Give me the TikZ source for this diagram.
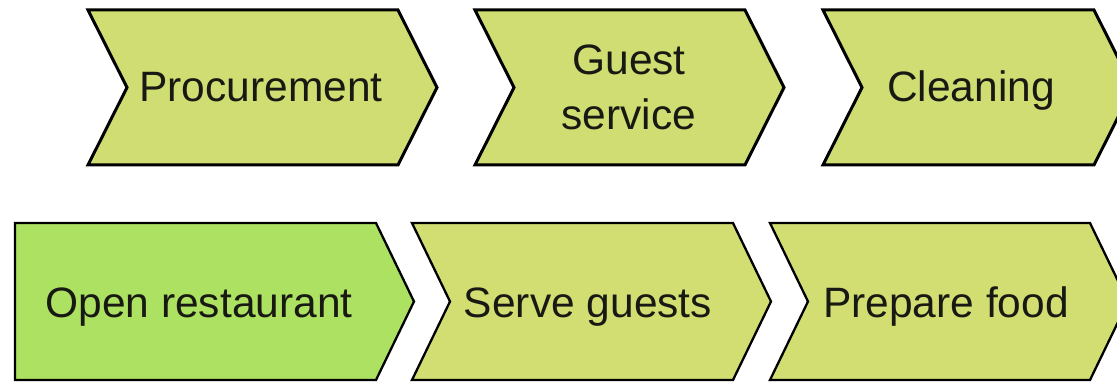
\documentclass[tikz,border=0pt]{standalone}
\usepackage{fontspec}
\setmainfont{Liberation Sans}
\definecolor{topfill}{RGB}{208,221,114}
\definecolor{botfill}{RGB}{210,222,114}
\definecolor{openfill}{RGB}{173,225,98}
\definecolor{txt}{RGB}{25,25,20}
\begin{document}
\begin{tikzpicture}[x=1pt,y=-1pt,
  topshape/.style={draw=black,line width=3pt,line join=miter,fill=topfill},
  botshape/.style={draw=black,line width=2.3pt,line join=miter,fill=botfill},
  label/.style={text=txt,font=\fontsize{42.5}{55}\selectfont,align=center,inner sep=0pt,anchor=base}]
\useasboundingbox (0,0) rectangle (1117,382);
\begin{scope}
\clip (0,0) rectangle (1117,382);
% top row
\draw[topshape] (88,10) -- (398,10) -- (437,87.5) -- (398,165) -- (88,165) -- (127,87.5) -- cycle;
\draw[topshape] (475,10) -- (745,10) -- (784,87.5) -- (745,165) -- (475,165) -- (514,87.5) -- cycle;
\draw[topshape] (823,10) -- (1094,10) -- (1133,87.5) -- (1094,165) -- (823,165) -- (862,87.5) -- cycle;
% bottom row
\draw[botshape,fill=openfill] (15,223) -- (376,223) -- (414,301.5) -- (376,380) -- (15,380) -- cycle;
\draw[botshape] (412,223) -- (733,223) -- (771,301.5) -- (733,380) -- (412,380) -- (450,301.5) -- cycle;
\draw[botshape] (770,223) -- (1090,223) -- (1128,301.5) -- (1090,380) -- (770,380) -- (808,301.5) -- cycle;
\end{scope}
\node[label] (proc) at (261,102) {Procurement};
\node[label] (guest) at (629,130) {Guest\\service};
\node[label] (clean) at (971,102) {Cleaning};
\node[label] (open) at (199,317) {Open restaurant};
\node[label] (serve) at (588,317) {Serve guests};
\node[label] (prep) at (946,317) {Prepare food};
\end{tikzpicture}
\end{document}
